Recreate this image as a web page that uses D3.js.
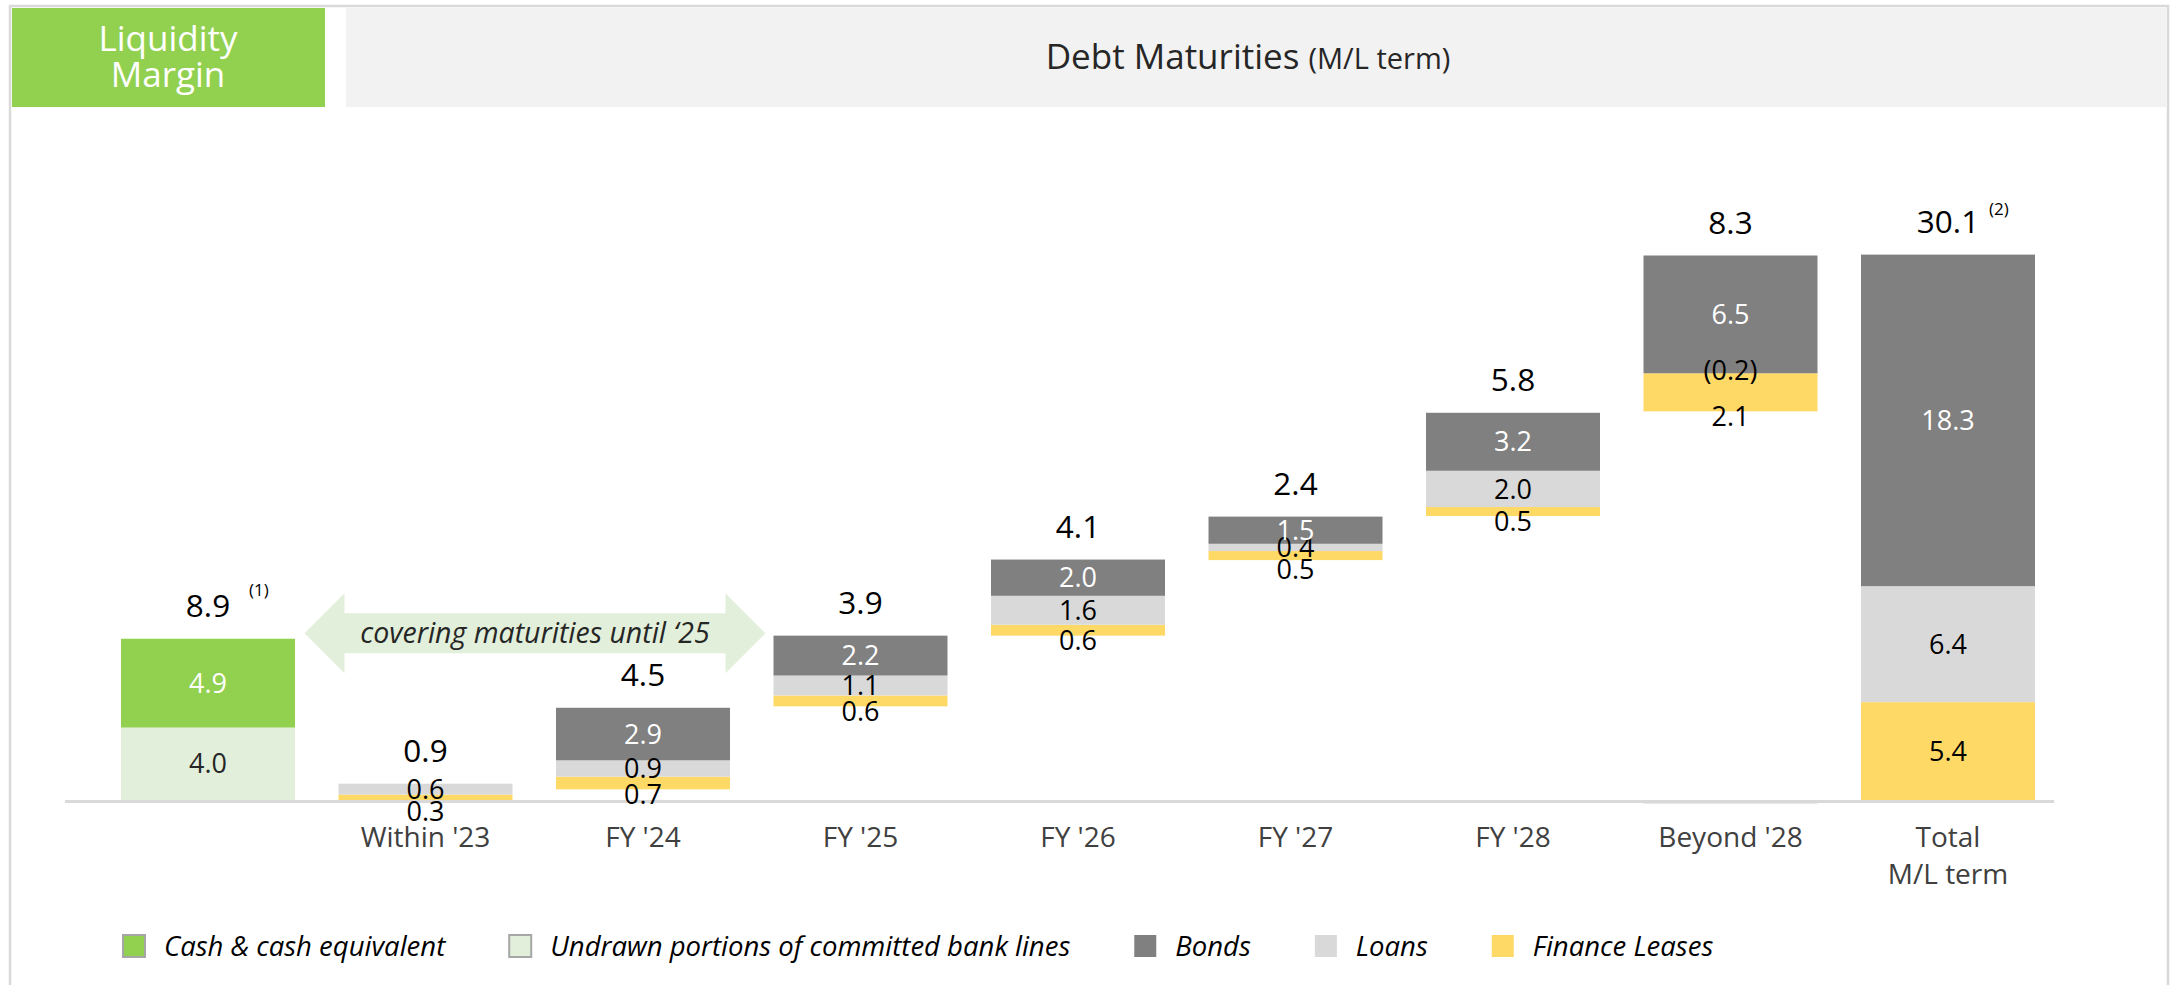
<!DOCTYPE html>
<html>
<head>
<meta charset="utf-8">
<script src="https://cdn.jsdelivr.net/npm/d3@7"></script>
<style>
  body { margin: 0; background: #fff; }
  svg { display: block; font-family: 'Open Sans', sans-serif; }
</style>
</head>
<body>
<svg id="chart" width="2179" height="985"></svg>
<script>
// chart values
var categories = ['Liquidity', "Within '23", "FY '24", "FY '25", "FY '26", "FY '27", "FY '28", "Beyond '28", 'Total']
var tickLabels = [[''], ["Within '23"], ["FY '24"], ["FY '25"], ["FY '26"], ["FY '27"], ["FY '28"], ["Beyond '28"], ['Total', 'M/L term']]
var cashValues = [4.9]
var undrawnValues = [4.0]
var leasesValues = [null, 0.3, 0.7, 0.6, 0.6, 0.5, 0.5, 2.1, 5.4]
var loansValues = [null, 0.6, 0.9, 1.1, 1.6, 0.4, 2.0, -0.2, 6.4]
var bondsValues = [null, 0, 2.9, 2.2, 2.0, 1.5, 3.2, 6.5, 18.3]
// where each floating bar starts
var barStarts = [0, 0, 0.59, 5.17, 9.07, 13.24, 15.67, 21.45, 0]
var totalLabels = ['8.9', '0.9', '4.5', '3.9', '4.1', '2.4', '5.8', '8.3', '30.1']
var footnotes = ['(1)', '', '', '', '', '', '', '', '(2)']
var legendLabels = ['Cash & cash equivalent', 'Undrawn portions of committed bank lines', 'Bonds', 'Loans', 'Finance Leases']
var legendKeys = ['cash', 'undrawn', 'bonds', 'loans', 'leases']

var colors = {
    cash: '#92d050',
    undrawn: '#e2efda',
    bonds: '#808080',
    loans: '#d9d9d9',
    leases: '#ffd966'
}
var labelColors = { cash: '#ffffff', undrawn: '#262626', bonds: '#ffffff', loans: '#000000', leases: '#000000' }

var svg = d3.select('#chart')

// frame + header
svg.append('rect')
    .attr('x', 10).attr('y', 6)
    .attr('width', 2158).attr('height', 1000)
    .style('fill', 'none')
    .style('stroke', '#d9d9d9')
    .style('stroke-width', 2.5)
svg.append('rect')
    .attr('x', 12).attr('y', 8).attr('width', 313).attr('height', 99)
    .style('fill', '#92d050')
svg.append('rect')
    .attr('x', 346).attr('y', 8).attr('width', 1820).attr('height', 99)
    .style('fill', '#f2f2f2')
svg.append('text')
    .attr('x', 168).attr('y', 51)
    .attr('text-anchor', 'middle')
    .style('fill', '#fff').style('font-size', '35px')
    .selectAll('tspan')
    .data(['Liquidity', 'Margin'])
    .enter().append('tspan')
    .attr('x', 168)
    .attr('dy', function (d, i) { return i ? 36 : 0 })
    .text(function (d) { return d })
var title = svg.append('text')
    .attr('x', 1248).attr('y', 69)
    .attr('text-anchor', 'middle')
    .style('fill', '#262626')
title.append('tspan').style('font-size', '35px').text('Debt Maturities ')
title.append('tspan').style('font-size', '29px').text('(M/L term)')

// scales
var x = d3.scaleBand()
    .domain(categories)
    .range([99.25, 2056.75])
    .paddingInner(0.2)
    .paddingOuter(0.1)
var y = d3.scaleLinear()
    .domain([0, 30.1])
    .range([800, 254.6])

// build stacked segments
var segments = []
categories.forEach(function (c, i) {
    if (i === 0) {
        segments.push({ cat: c, key: 'undrawn', y0: 0, y1: undrawnValues[0], v: undrawnValues[0] })
        segments.push({ cat: c, key: 'cash', y0: undrawnValues[0], y1: undrawnValues[0] + cashValues[0], v: cashValues[0] })
        return
    }
    var acc = barStarts[i]
    var parts = [['leases', leasesValues[i]], ['loans', loansValues[i]], ['bonds', bondsValues[i]]]
    parts.forEach(function (p) {
        if (p[1] < 0) {
            segments.push({ cat: c, key: p[0], y0: p[1], y1: 0, v: p[1], neg: true, at: acc })
            return
        }
        segments.push({ cat: c, key: p[0], y0: acc, y1: acc + p[1], v: p[1] })
        acc += p[1]
    })
})

// baseline
svg.append('rect')
    .attr('x', 65).attr('y', y(0))
    .attr('width', 1989).attr('height', 3)
    .style('fill', '#d9d9d9')

svg.append('g').selectAll('rect')
    .data(segments.filter(function (s) { return s.v !== 0 }))
    .enter().append('rect')
    .attr('x', function (d) { return x(d.cat) })
    .attr('width', x.bandwidth())
    .attr('y', function (d) { return y(d.y1) })
    .attr('height', function (d) { return y(d.y0) - y(d.y1) })
    .style('fill', function (d) { return colors[d.key] })

// arrow annotation
var ax0 = x("Within '23") - 34
var ax1 = x("FY '25") - 8
var acy = y(9.2)
var arrowPts = [
    [ax0, acy], [ax0 + 40, acy - 40], [ax0 + 40, acy - 20], [ax1 - 40, acy - 20], [ax1 - 40, acy - 40],
    [ax1, acy], [ax1 - 40, acy + 40], [ax1 - 40, acy + 20], [ax0 + 40, acy + 20], [ax0 + 40, acy + 40]
]
svg.append('path')
    .attr('d', d3.line()(arrowPts) + 'Z')
    .style('fill', '#e2efda')
svg.append('text')
    .attr('x', (ax0 + ax1) / 2).attr('y', acy + 10)
    .attr('text-anchor', 'middle')
    .style('font-size', '28.5px').style('font-style', 'italic')
    .style('fill', '#262626')
    .text('covering maturities until \u201825')

// segment labels
function fmt(v) { return v < 0 ? '(' + Math.abs(v).toFixed(1) + ')' : v.toFixed(1) }
var labelData = []
categories.forEach(function (c) {
    var segs = segments.filter(function (s) { return s.cat === c && s.v !== 0 })
    var loansCenter = null
    segs.forEach(function (s) {
        var cy
        if (s.neg) {
            cy = y(s.at) - 3
        } else if (s.key === 'leases' && y(s.y0) - y(s.y1) < 45) {
            cy = y(s.y0) + 5
        } else {
            cy = (y(s.y0) + y(s.y1)) / 2
        }
        if (s.key === 'loans' && !s.neg) loansCenter = cy
        s.cy = cy
    })
    segs.forEach(function (s) {
        if (s.key === 'leases' && loansCenter !== null && s.cy - loansCenter < 22 && y(s.y0) - y(s.y1) < 45) {
            s.cy = loansCenter + 22
        }
        labelData.push(s)
    })
})
svg.append('g').selectAll('text')
    .data(labelData)
    .enter().append('text')
    .attr('x', function (d) { return x(d.cat) + x.bandwidth() / 2 })
    .attr('y', function (d) { return d.cy })
    .attr('dy', '0.36em')
    .attr('text-anchor', 'middle')
    .style('font-size', '27px')
    .style('fill', function (d) { return d.neg ? '#000' : labelColors[d.key] })
    .text(function (d) { return fmt(d.v) })

// totals above bars
var tops = categories.map(function (c) {
    return d3.max(segments.filter(function (s) { return s.cat === c }), function (s) { return s.y1 })
})
var totalG = svg.append('g').selectAll('g')
    .data(categories)
    .enter().append('g')
    .attr('transform', function (d, i) {
        return 'translate(' + (x(d) + x.bandwidth() / 2) + ',' + (y(tops[i]) - 22) + ')'
    })
totalG.append('text')
    .attr('text-anchor', 'middle')
    .style('font-size', '31.5px')
    .style('fill', '#000')
    .text(function (d, i) { return totalLabels[i] })
totalG.append('text')
    .attr('x', 41)
    .attr('y', function (d, i) { return i === 0 ? -21 : -18 })
    .style('font-size', '17px')
    .style('fill', '#000')
    .text(function (d, i) { return footnotes[i] })

// x axis
var xAxis = svg.append('g')
    .attr('transform', 'translate(0,' + y(0) + ')')
    .call(d3.axisBottom(x).tickSize(0).tickFormat(''))
xAxis.select('.domain').remove()
xAxis.selectAll('.tick').each(function (d, i) {
    var t = d3.select(this).append('text')
        .attr('y', 47)
        .attr('text-anchor', 'middle')
        .style('font-size', '28px')
        .style('font-family', "'Open Sans', sans-serif")
        .style('fill', '#404040')
    tickLabels[i].forEach(function (line, j) {
        t.append('tspan').attr('x', 0).attr('dy', j ? 37 : 0).text(line)
    })
})

// legend
var lx = 123
legendKeys.forEach(function (k, i) {
    var bordered = (k === 'cash' || k === 'undrawn')
    svg.append('rect')
        .attr('x', lx).attr('y', 935)
        .attr('width', 22).attr('height', 22)
        .style('fill', colors[k])
        .style('stroke', bordered ? '#a6a6a6' : 'none')
        .style('stroke-width', 2)
    var t = svg.append('text')
        .attr('x', lx + 41).attr('y', 956)
        .style('font-size', '27.5px')
        .style('font-style', 'italic')
        .style('fill', '#000')
        .text(legendLabels[i])
    lx = lx + 41 + t.node().getComputedTextLength() + 64
})
</script>
</body>
</html>
